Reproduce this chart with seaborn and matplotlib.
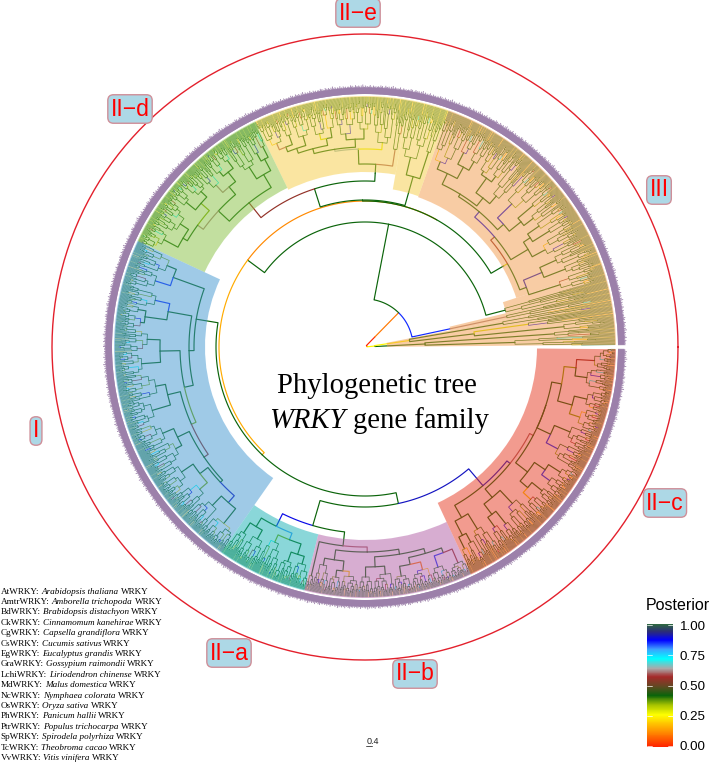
import numpy as np
import matplotlib
matplotlib.use("Agg")
import matplotlib.pyplot as plt
from matplotlib.collections import LineCollection
from matplotlib.colors import LinearSegmentedColormap
import seaborn as sns

# ---------------- data ----------------
# tree nodes: (radius, posterior, [children]); a tuft of tips: (radius, posterior, leaf count)
low_fans = (10, .25, [(60, .42, [(150, .42, 7), (190, .42, 5)]),
                      (45, .25, [(110, .42, [(200, .42, 6), (165, .3, 5)]), (140, .42, 6)])])
low_blue = (87, .85, [(145, .62, 6)])
low_green = (145, .42, 8)
clade_III = (165, .3, [
    (172, .42, [(205, .42, 10), (192, .9, [(215, .42, 8), (210, .42, 10)])]),
    (170, .55, [
        (190, .42, [(205, .42, 14), (198, .42, [(218, .42, 6), (212, .42, 8)])]),
        (177, .88, [
            (185, .42, [(200, .42, [(212, .42, 8), (220, .42, 6)]), (205, .88, 16)]),
            (180, .42, [(190, .42, [(200, .42, 12), (208, .42, [(215, .42, 8), (212, .42, 10)])]),
                        (192, .42, [(205, .42, [(215, .42, 10), (218, .42, 8)]), (200, .42, 18)])]),
        ]),
    ]),
])
clade_IIe_small = (177, .42, [(205, .42, 6), (195, .42, 20)])
clade_IIe = (183, .42, [
    (200, .6, 6),
    (198, .42, [
        (205, .28, 16),
        (200, .65, [
            (208, .42, [(218, .42, 12), (214, .42, 14)]),
            (205, .42, [(212, .42, [(222, .42, 8), (218, .3, 10)]),
                        (210, .42, [(220, .42, 12), (215, .42, [(225, .42, 8), (222, .6, 14)])])]),
        ]),
    ]),
])
clade_IId = (185, .55, [
    (200, .42, [(213, .42, [(225, .42, 5), (222, .42, 6)]), (214, .42, 14)]),
    (200, .42, [
        (210, .42, [(222, .42, [(232, .42, 8), (228, .42, 8)]), (220, .62, 10)]),
        (207, .62, [(218, .36, [(226, .42, 12), (230, .42, 10)]),
                    (212, .42, [(222, .42, 20), (228, .42, 15)])]),
    ]),
])
clade_I = (171, .42, [
    (204, .42, [(214, .42, 14), (220, .85, 14)]),
    (176, .42, [
        (200, .42, [(215, .85, 12), (222, .42, [(230, .42, 6), (226, .42, 10)])]),
        (185, .42, [
            (205, .42, [(218, .42, 16), (224, .42, 16)]),
            (190, .36, [
                (203, .42, [(213, .42, 18), (222, .42, 18)]),
                (195, .55, [
                    (208, .42, [(220, .42, 16), (215, .42, 16)]),
                    (198, .42, [(208, .42, [(222, .42, 18), (218, .36, 14)]),
                                (207, .9, [(220, .42, 14), (226, .42, 20)])]),
                ]),
            ]),
        ]),
    ]),
])
clade_IIa = (200, .88, [
    (210, .42, [(222, .42, 8), (220, .42, 14)]),
    (207, .8, [(215, .36, 14), (218, .42, [(228, .42, 10), (226, .42, 12)])]),
])
clade_IIb = (200, .42, [
    (235, .42, 4),
    (205, .6, [
        (215, .42, [(222, .42, 10), (225, .42, [(232, .42, 8), (230, .2, 12)])]),
        (210, .42, [(220, .42, [(230, .42, 10), (228, .42, 14)]),
                    (215, .42, [(222, .42, [(232, .42, 12), (230, .1, 14)]),
                                (220, .42, [(232, .85, 12), (235, .55, 12)])])]),
    ]),
])
clade_IIc = (182, .9, [
    (196, .42, [(212, .42, [(225, .42, 6), (222, .42, 7)]), (214, .42, 12)]),
    (186, .9, [
        (197, .42, [(210, .42, [(222, .42, 8), (226, .42, 8)]), (215, .42, 16)]),
        (190, .6, [
            (205, .42, [(215, .42, [(225, .2, 10), (228, .42, 8)]),
                        (218, .42, [(228, .85, 10), (232, .42, 10)])]),
            (190, .45, [(205, .42, [(218, .85, 14), (222, .42, 14)]),
                        (200, .42, [(215, .42, [(226, .36, 14), (228, .42, 14)]),
                                    (212, .36, [(224, .42, 14), (230, .55, 14)])])]),
        ]),
    ]),
])
backbone = (2, .25, [low_fans, (14, 0, [(48, .1, [
    low_blue,
    (125, .42, [low_green, (146, .42, [
        (146, .12, [(161, .42, [clade_III]),
                    (147, .42, [(161, .42, [clade_IIe_small]),
                                (166, .42, [(174, .42, [clade_IIe]), clade_IId])])]),
        (149, .16, [clade_I, (160, .42, [
            (186, .42, [clade_IIa, clade_IIb]),
            clade_IIc])]),
    ])]),
])])])

split_cycle = [.5, .6, .4, .55, .67, .45, .35, .5, .7, .5]
step_cycle = [.35, .5, .28, .6, .4, .3, .55, .45]
fan_posterior = [.42, .42, .36, .42, .42, .42, .88, .42, .42, .42, .36, .42, .42, .42, .42, .2, .42,
                 .42, .42, .42, .36, .42, .72, .42, .42, .42, .42, .55, .42, .42]
tag_lengths = [7.5, 6.5, 8, 7, 7.5, 8.5, 6.5, 7.5, 7, 9, 7.5, 7, 8, 6.5, 7.5, 8.5, 7, 7.5, 9.5, 7, 8.5, 6.5, 7.5,
               8.5, 7, 8, 7.5, 9, 7, 7.5, 6.5, 8.5, 7.5, 9, 7, 7.5, 8]
leaves_per_count = 2

clade_from = [.5, 11, 13.5, 18, 70.5, 80, 116, 155, 235, 256, 295]
clade_to = [11, 13.5, 18, 70.5, 80, 116, 155, 235, 256, 295, 359.5]
clade_inner = [22, 87, 145, 159, 160, 175, 177, 160, 193, 193, 172]
clade_color = ["#f39b4b", "#f39b4b", "#f39b4b", "#f39b4b", "#f7cd45", "#f7cd45", "#87c141",
               "#4197d1", "#17b1b5", "#b15da5", "#e73921"]

group_names = ["II\u2212e", "III", "II\u2212c", "II\u2212b", "II\u2212a", "I", "II\u2212d"]
species_tags = ["AtWRKY", "AmtrWRKY", "BdWRKY", "CkWRKY", "CgWRKY", "CsWRKY", "EgWRKY", "GraWRKY",
                "LchiWRKY", "MdWRKY", "NcWRKY", "OsWRKY", "PhWRKY", "PtrWRKY", "SpWRKY", "TcWRKY", "VvWRKY"]
species_names = ["Arabidopsis thaliana", "Amborella trichopoda", "Brabidopsis distachyon",
                 "Cinnamomum kanehirae", "Capsella grandiflora", "Cucumis sativus", "Eucalyptus grandis",
                 "Gossypium raimondii", "Liriodendron chinense", "Malus domestica", "Nymphaea colorata",
                 "Oryza sativa", "Panicum hallii", "Populus trichocarpa", "Spirodela polyrhiza",
                 "Theobroma cacao", "Vitis vinifera"]
posterior_stops = [0, .14, .26, .34, .42, .49, .57, .64, .72, .8, .87, .94, 1]
posterior_colors = ["#ff2200", "#ff9d00", "#ffff00", "#a8c400", "#0a640a", "#5f4a22", "#a52a2a",
                    "#aaaaaa", "#00ffff", "#3f9bff", "#0000ff", "#2c2c78", "#2f6b3f"]
posterior_ticks = [1.0, .75, .5, .25, 0.0]

# ---------------- drawing ----------------
sns.set_theme(style="white")
plt.rcParams["font.family"] = ["Liberation Serif", "DejaVu Serif"]

W, H = 711, 762
CX, CY, RMAX, R_TIP = 365, 347, 320, 250
fig = plt.figure(figsize=(W / 100, H / 100), dpi=100)
ax = fig.add_axes([(CX - RMAX) / W, (H - CY - RMAX) / H, 2 * RMAX / W, 2 * RMAX / H], polar=True)
cmap = LinearSegmentedColormap.from_list("posterior", list(zip(posterior_stops, posterior_colors)))


class Counter:
    split = 0
    step = 0
    post = 0


def expand(node):
    """Turn nested tuples into dict nodes; tufts become small ladders of tips."""
    r, p, kids = node
    if isinstance(kids, int):
        return tuft(kids * leaves_per_count, r, p, False)
    return {"r": r, "p": p, "k": [expand(c) for c in kids], "fine": False}


def tuft(n, r, p, fine=True):
    if n == 1:
        return {"r": R_TIP, "p": p, "k": [], "fine": True, "tip": True}
    f = split_cycle[Counter.split % len(split_cycle)]
    Counter.split += 1
    a = min(n - 1, max(1, int(round(n * f))))
    out = []
    for m in (a, n - a):
        s = step_cycle[Counter.step % len(step_cycle)]
        Counter.step += 1
        q = fan_posterior[Counter.post % len(fan_posterior)]
        Counter.post += 1
        if m == 1:
            out.append(tuft(1, r, .42 if q > .5 else q))
        else:
            out.append(tuft(m, r + (R_TIP - r) * s * (0.45 if m > 8 else .8), q))
    return {"r": r, "p": p, "k": out, "fine": fine}


root = expand(backbone)


def count(n):
    return 1 if not n["k"] else sum(count(c) for c in n["k"])


N = count(root)
leaf_deg = np.linspace(.5, 359.5, N)
cursor = [0]


def place(n):
    if not n["k"]:
        n["a"] = leaf_deg[cursor[0]]
        cursor[0] += 1
    else:
        for c in n["k"]:
            place(c)
        n["a"] = (n["k"][0]["a"] + n["k"][-1]["a"]) / 2


place(root)
segs, cols, lws, tips = [], [], [], []


def emit(n):
    for c in n["k"]:
        steps = max(2, int(abs(c["a"] - n["a"]) / 1.0) + 2)
        th = np.radians(np.linspace(n["a"], c["a"], steps))
        xy = np.column_stack([th, np.full(steps, n["r"])])
        xy = np.vstack([xy, [np.radians(c["a"]), c["r"]]])
        segs.append(xy)
        cols.append(cmap(c["p"]))
        lws.append(.3 if c.get("tip") else (.5 if c["fine"] else .85))
        if c.get("tip"):
            tips.append(c["a"])
        emit(c)


emit(root)
ax.add_collection(LineCollection(segs, colors=cols, linewidths=lws, zorder=2, capstyle="round"))

# clade highlights lie over the branches
for a0, a1, r0, c in zip(clade_from, clade_to, clade_inner, clade_color):
    ax.bar(np.radians((a0 + a1) / 2), R_TIP + 1 - r0, width=np.radians(a1 - a0), bottom=r0,
           color=c, alpha=.5, linewidth=0, zorder=3)

# tip labels: the mauve jagged ring
ring_col = "#9c80aa"
ax.bar(np.radians(180), 6.5, width=np.radians(359), bottom=253, color=ring_col, linewidth=0, zorder=2)
ring = [[(np.radians(a), 253), (np.radians(a), 253 + tag_lengths[i % len(tag_lengths)])]
        for i, a in enumerate(tips)]
ax.add_collection(LineCollection(ring, colors=ring_col, linewidths=.6, zorder=2))

# outer red circle
circle_deg = np.arange(0, 361)
sns.lineplot(x=np.radians(circle_deg), y=np.full(361, 313.0), ax=ax, sort=False, estimator=None,
             color="#e3202c", linewidth=1.0, zorder=2)
ax.set_ylim(0, RMAX)
ax.set_axis_off()


def fx(x):
    return x / W


def fy(y):
    return 1 - y / H


renderer = fig.canvas.get_renderer()


def run_of_text(x, y, pieces, size):
    """Lay regular and italic pieces one after another on a baseline at pixel (x, y)."""
    for s, style in pieces:
        t = fig.text(fx(x), fy(y), s, fontsize=size, style=style, ha="left", va="baseline", color="black")
        adv = t.get_window_extent(renderer).width
        x += adv + size * 1.39 * .25


# group labels
label_xy = [(358, 13), (659, 190), (665, 503), (415, 674), (229, 653), (36, 431), (130, 109)]
for (x, y), s in zip(label_xy, group_names):
    fig.text(fx(x), fy(y), s, color="#ff0000", fontsize=16.5, family="Liberation Sans", ha="center", va="center",
             bbox=dict(boxstyle="round,pad=0.12,rounding_size=0.25", fc="#add8e6", ec="#cf8f99", lw=1.0))

# centre title
fig.text(fx(377), fy(386), "Phylogenetic tree", fontsize=20.6, ha="center", va="center", color="black")
run_of_text(269, 428, [("WRKY", "italic"), ("gene family", "normal")], 20.6)

# species list
for i, (t, s) in enumerate(zip(species_tags, species_names)):
    run_of_text(0.5, 593.5 + i * 10.4, [(t + ":", "normal"), (s, "italic"), ("WRKY", "normal")], 6.6)

# scale bar
fig.text(fx(373), fy(742), "0.4", fontsize=6.5, family="Liberation Sans", ha="center", va="center", color="#222222")
fig.add_artist(plt.Line2D([fx(366), fx(372)], [fy(746), fy(746)], color="#333333", lw=.6))

# posterior colour bar
top, bottom, left, right = 624, 747, 647, 673
cax = fig.add_axes([fx(left), fy(bottom), (right - left) / W, (bottom - top) / H])
grad = np.linspace(1, 0, 256).reshape(-1, 1)
sns.heatmap(grad, cmap=cmap, vmin=0, vmax=1, cbar=False, xticklabels=False, yticklabels=False, ax=cax)
for v in posterior_ticks:
    yy = (1 - v) * 252 + 2
    cax.plot([0, .2], [yy, yy], color="white", lw=.5, clip_on=True)
    cax.plot([.8, 1], [yy, yy], color="white", lw=.5, clip_on=True)
    fig.text(fx(680), fy(627 + (1 - v) * 120.5), f"{v:.2f}", fontsize=9.6, family="Liberation Sans",
             ha="left", va="center", color="black")
fig.text(fx(646), fy(605), "Posterior", fontsize=11.5, family="Liberation Sans", ha="left", va="center", color="black")

fig.savefig("out.png", dpi=100, facecolor="white")
